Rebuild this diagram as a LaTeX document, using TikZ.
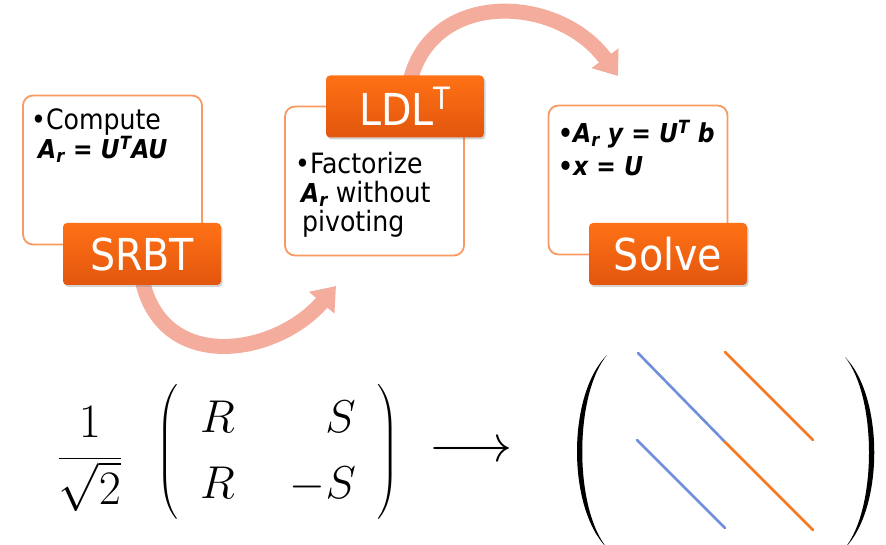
\RequirePackage{fix-cm}
\documentclass[tikz,border=0pt]{standalone}
\usepackage{amsmath}
\usepackage{fontspec}
\setmainfont{DejaVu Sans Condensed}
\usetikzlibrary{arrows.meta,backgrounds,shadows}
\definecolor{slideframe}{HTML}{F89A62}
\definecolor{slidetop}{HTML}{FF7115}
\definecolor{slidebottom}{HTML}{E2560E}
\definecolor{slidearc}{HTML}{F4AD9D}
\definecolor{slideblue}{HTML}{6F8FDB}
\definecolor{slideorange}{HTML}{F57A22}
\tikzset{
  stepframe/.style={draw=slideframe,line width=1.8pt,rounded corners=10pt,fill=white,
    minimum width=179pt,minimum height=149pt,inner sep=0pt},
  steplabel/.style={rounded corners=4pt,top color=slidetop,bottom color=slidebottom,
    minimum width=158pt,minimum height=62pt,inner sep=0pt,text=white,
    font=\fontsize{44}{44}\selectfont,
    drop shadow={opacity=0.35,shadow xshift=1.5pt,shadow yshift=-2pt}},
  stepbody/.style={anchor=north west,inner sep=0pt,align=left,font=\fontsize{28}{29}\selectfont},
  flowarrow/.style={draw=slidearc,line width=15pt,-{Triangle[length=22pt,width=32pt]}},
  diagline/.style={line width=2.6pt,line cap=round},
}

\begin{document}
\begin{tikzpicture}[x=1pt,y=1pt]
  \useasboundingbox (0,0) rectangle (886,-545);
  \node[stepframe] (compute) at (112.5,-170) {};
  \node[stepframe] (factorize) at (374.5,-181) {};
  \node[stepframe] (solvebox) at (638,-180) {};
  \node[stepbody] (computetext) at (31,-109)
    {\textbullet Compute\\\hspace*{7pt}{\fontsize{26}{29}\selectfont\textbf{\textit{A\textsubscript{r} = U\textsuperscript{T}AU}}}};
  \node[stepbody] (factorizetext) at (295,-152)
    {\textbullet Factorize\\\hspace*{6pt}{\fontsize{26}{29}\selectfont\textbf{\textit{A\textsubscript{r}}}} without\\\hspace*{7pt}pivoting};
  \node[stepbody,font=\fontsize{26}{33}\selectfont\bfseries\itshape] (solvetext) at (558,-120)
    {\textbullet A\textsubscript{r} y = U\textsuperscript{T} b\\\textbullet x = U};
  \node[steplabel] (srbt) at (142,-254) {SRBT};
  \node[steplabel] (ldlt) at (405,-106.5) {LDL\textsuperscript{T}};
  \node[steplabel] (solve) at (668,-254) {Solve};
  \coordinate (arcatip) at (336,-286);
  \coordinate (arcbtip) at (618,-76);
  \begin{pgfonlayer}{background}
    \draw[flowarrow] ([yshift=6pt]srbt.south) .. controls +(20,-95) and +(-60,-70) .. (arcatip);
    \draw[flowarrow] ([xshift=5pt,yshift=-6pt]ldlt.north) .. controls +(22,92) and +(-60,82) .. (arcbtip);
  \end{pgfonlayer}
  \node[font=\fontsize{48}{48}\selectfont,inner sep=0pt] (scalefrac) at (90,-459)
    {$\displaystyle\frac{1}{\sqrt{2}}$};
  \node[font=\fontsize{46}{66}\selectfont,inner sep=0pt] (srbtform) at (278,-452)
    {$\left(\begin{array}{@{\hspace{22pt}}c@{\hspace{55pt}}r@{\hspace{22pt}}}R & S\\ R & -S\end{array}\right)$};
  \node[font=\fontsize{52}{52}\selectfont,inner sep=0pt] (mapsto) at (471,-452) {$\longrightarrow$};
  \fill (607,-355) .. controls (567,-395) and (567,-508) .. (607,-548)
    .. controls (574,-508) and (574,-395) .. cycle;
  \fill (845,-357) .. controls (884,-397) and (884,-508) .. (845,-548)
    .. controls (877,-508) and (877,-397) .. cycle;
  \foreach \xa/\ya/\xb/\yb/\c in {638/353/725/442/slideblue,725/442/813/530/slideorange,
    725/352/813/440/slideorange,637/440/725/528/slideblue}
    {\draw[diagline,\c] (\xa,-\ya) -- (\xb,-\yb);}
\end{tikzpicture}
\end{document}
